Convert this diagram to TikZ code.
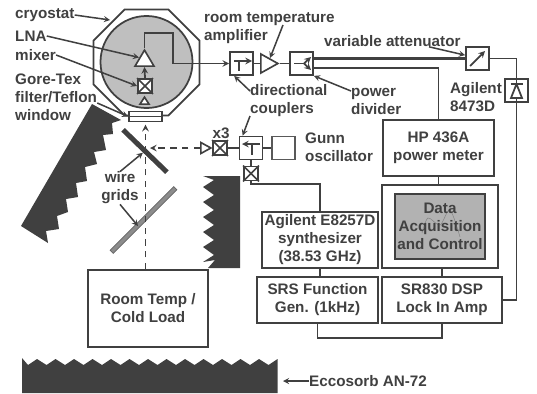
\documentclass[tikz,border=0pt]{standalone}
\usepackage{fontspec}
\setmainfont{Liberation Sans}
\usetikzlibrary{shapes.geometric}
\colorlet{ink}{black!75}
\tikzset{
  >=stealth,
  every node/.style={inner sep=0pt, text=ink, align=center, font=\fontsize{13}{15.4}\selectfont\bfseries},
  wire/.style={draw=ink, line width=1.5pt},
  lead/.style={draw=ink, line width=1.3pt, ->},
  beam/.style={draw=ink, line width=1.5pt, dash pattern=on 5.5pt off 4.5pt, ->},
  bigbox/.style={draw=ink, line width=1.5pt, rectangle, fill=white},
  comp/.style={bigbox, minimum size=0.69cm},
  xbox/.style={bigbox, minimum size=0.42cm},
  tri/.style={draw=ink, line width=1.4pt, fill=white, isosceles triangle, isosceles triangle stretches, anchor=apex},
  lbl/.style={anchor=west, align=left}
}
\begin{document}
\begin{tikzpicture}[x=0.03cm,y=-0.03cm]
  \useasboundingbox (0,0) rectangle (537,393);
  % Absorbers
  \fill[ink] (92,104) -- (121,120) -- (112,123) -- (113,134) -- (103,135) -- (106,150) -- (94,152)
    -- (97,164) -- (85,167) -- (87,181) -- (76,183) -- (78,197) -- (66,199) -- (68,212) -- (57,216)
    -- (59,229) -- (46,231) -- (48,243) -- (21,226) -- cycle;
  \fill[ink] (240,176) -- (203,176) \foreach \y in {0,...,5} { -- (214,180+15*\y) -- (203,187+15*\y) }
    -- (215,260) -- (208,268) -- (240,268) -- cycle;
  \fill[ink] (22,393) -- (22,358) \foreach \k in {0,...,13} { -- (28+18.5*\k,365) -- (37+18.5*\k,359) }
    -- (277.5,393) -- cycle;
  \coordinate (eccoedge) at (277,381);
  % Cryostat
  \node[draw=ink, line width=1.5pt, fill=white, regular polygon, regular polygon sides=8, minimum size=3.44cm] (cryo) at (146.5,62.5) {};
  \node[draw=ink, line width=1.5pt, fill=black!25, circle, minimum size=2.76cm] (dewar) at (146.5,62) {};
  \node[tri, shape border rotate=90, minimum width=0.57cm, minimum height=0.48cm] (lna) at (144.5,48) {};
  \node[xbox] (mixa) at (145,86) {};
  \node[tri, shape border rotate=90, minimum width=0.27cm, minimum height=0.21cm] (horn) at (144.5,95) {};
  \node[bigbox, minimum width=0.99cm, minimum height=0.3cm] (window) at (145.5,116.5) {};
  \draw[wire] (window.west) -- (window.east);
  % Signal chain
  \node[comp] (coupa) at (241.5,63.5) {};
  \node[tri, minimum width=0.57cm, minimum height=0.51cm] (amp) at (280,63.5) {};
  \node[comp] (divider) at (301.5,63.5) {};
  \node[comp] (atten) at (477.5,58.5) {};
  \node[comp] (detector) at (516.5,90.5) {};
  \coordinate (bend) at (173,33);
  \draw[wire,->] (lna.apex) |- (bend) |- (coupa.west);
  \draw[wire] (coupa.east) -- (amp.lower side);
  \draw[wire] (amp.apex) -- (divider.west);
  \draw[wire, line width=1.9pt] (atten.west -| divider.east) -- (atten.west);
  \draw[wire] (atten.east) -| (detector.north);
  % Source chain
  \node[comp] (coupb) at (251,148) {};
  \node[bigbox, draw=black!65, minimum size=0.69cm] (gunn) at (283.5,148) {};
  \node[xbox] (mixb) at (220,148) {};
  \node[xbox] (mixc) at (251,173.5) {};
  \node[tri, minimum width=0.33cm, minimum height=0.3cm] (tripler) at (213,148) {};
  \draw[wire] (coupb.east) -- (gunn.west);
  \draw[wire] (coupb.west) -- (mixb.east);
  \draw[wire] (coupb.south) -- (mixc.north);
  \draw[wire,->] (mixa.north) -- (lna.lower side);
  \foreach \m in {mixa,mixb,mixc} {
    \draw[wire] (\m.north west) -- (\m.south east) (\m.north east) -- (\m.south west);
  }
  % Symbols in the boxes
  \draw[wire,->] (234,61) -- (252,61);
  \draw[wire] (239,61) -- (239,71);
  \draw[wire,->] (260,144) -- (242,144);
  \draw[wire] (252,144) -- (252,155);
  \draw[wire] (294,63.5) -- (304,63.5);
  \draw[wire,->] (304,63.5) -- (311,57);
  \draw[wire,->] (304,63.5) -- (311,70);
  \draw[wire,->] (470,66) -- (485,51);
  \draw[wire] (detector.north) -- (detector.south);
  \draw[wire] (510.5,84) -- (523,84);
  \draw[wire, fill=white] (516.5,84) -- (511,98) -- (522,98) -- cycle;
  % Instruments
  \node[bigbox, minimum width=3.33cm, minimum height=1.68cm] (hp) at (438.5,148) {HP 436A\\power meter};
  \node[bigbox, minimum width=3.48cm, minimum height=2.49cm] (rack) at (440,226.5) {};
  \node[draw=ink, line width=1.5pt, fill=black!30, minimum width=2.7cm, minimum height=1.95cm] (daq) at (440,226.5) {};
  \draw[black!50, line width=0.4pt] plot[smooth] coordinates {(422,233) (428,218) (440,225) (450,210) (460,237)};
  \node (daqtext) at (440,226.5) {Data\\Acquisition\\and Control};
  \node[bigbox, minimum width=3.6cm, minimum height=1.38cm] (lockin) at (442,300) {SR830 DSP\\Lock In Amp};
  \node[bigbox, minimum width=3.48cm, minimum height=1.68cm] (synth) at (320,240) {Agilent E8257D\\synthesizer\\(38.53 GHz)};
  \node[bigbox, minimum width=3.63cm, minimum height=1.38cm] (srs) at (317.5,300) {SRS Function\\Gen. (1kHz)};
  \node[bigbox, minimum width=3.6cm, minimum height=2.31cm] (load) at (148,308.5) {Room Temp /\\Cold Load};
  \draw[wire] (hp.north) |- ([yshift=-0.14cm]divider.east);
  \draw[wire] (hp.south) -- (hp.south |- rack.north);
  \draw[wire] (lockin.north) -- (lockin.north |- rack.south);
  \draw[wire] (detector.south) |- (lockin.east);
  \draw[wire] (synth.south) -- (synth.south |- srs.north);
  \draw[wire] (synth.north) -- ++(0,-27) -| (mixc.south);
  \draw[wire] (srs.south) -- ++(0,14) -| (lockin.south);
  % Wire grids
  \node[fill=ink, minimum width=1.83cm, minimum height=0.15cm, rotate=-44] (grida) at (145,151) {};
  \node[draw=black!60, line width=0.6pt, fill=black!45, minimum width=2.7cm, minimum height=0.13cm, rotate=45] (gridb) at (143.5,220) {};
  \coordinate (gridhit) at (138,226);
  \draw[beam, shorten >=2pt] (window.south |- load.north) -- (window.south);
  \draw[beam, shorten >=0.15cm] (tripler.lower side) -- (tripler.lower side -| grida.center);
  % Labels
  \node[lbl] (cryolbl) at (15,15) {cryostat};
  \node[lbl] (lnalbl) at (15,36) {LNA};
  \node[lbl] (mixlbl) at (15,55) {mixer};
  \node[lbl] (gorelbl) at (15,97) {Gore-Tex\\filter/Teflon\\window};
  \node[lbl] (roomlbl) at (204,28) {room temperature\\amplifier};
  \node[lbl] (dirlbl) at (250,101) {directional\\couplers};
  \node[lbl] (powlbl) at (351,101) {power\\divider};
  \node[lbl] (varlbl) at (324,41) {variable attenuator};
  \node[lbl] (agilbl) at (450,97) {Agilent\\8473D};
  \node (x3lbl) at (221,133) {x3};
  \node[lbl] (gunnlbl) at (305,147) {Gunn\\oscillator};
  \node (wirelbl) at (120,188) {wire\\grids};
  \node[lbl] (eccolbl) at (309,381) {Eccosorb AN-72};
  % Leaders
  \coordinate (cryohit) at (110,20);
  \coordinate (roomfoot) at (283,25);
  \draw[lead] (cryolbl.east) -- (cryohit);
  \draw[lead] (lnalbl.east) -- (lna.left side);
  \draw[lead] (mixlbl.east) -- (mixa.west);
  \draw[lead] ([yshift=-0.18cm]gorelbl.east) -- (window.west);
  \draw[lead] (roomfoot) -- (amp.left side);
  \draw[lead] ([yshift=0.3cm]dirlbl.west) -- ([xshift=0.15cm]coupa.south west);
  \draw[lead] ([yshift=-0.45cm]dirlbl.west) -- ([xshift=0.12cm]coupb.north west);
  \draw[lead] ([yshift=0.3cm]powlbl.west) -- (divider.south east);
  \draw[lead] ([xshift=1.1cm]varlbl.south) -- ([yshift=0.1cm]atten.west);
  \draw[lead] (wirelbl.north) -- (grida);
  \draw[lead] (wirelbl.south) -- (gridhit);
  \draw[lead, shorten >=0.18cm] (eccolbl.west) -- (eccoedge);
\end{tikzpicture}
\end{document}
